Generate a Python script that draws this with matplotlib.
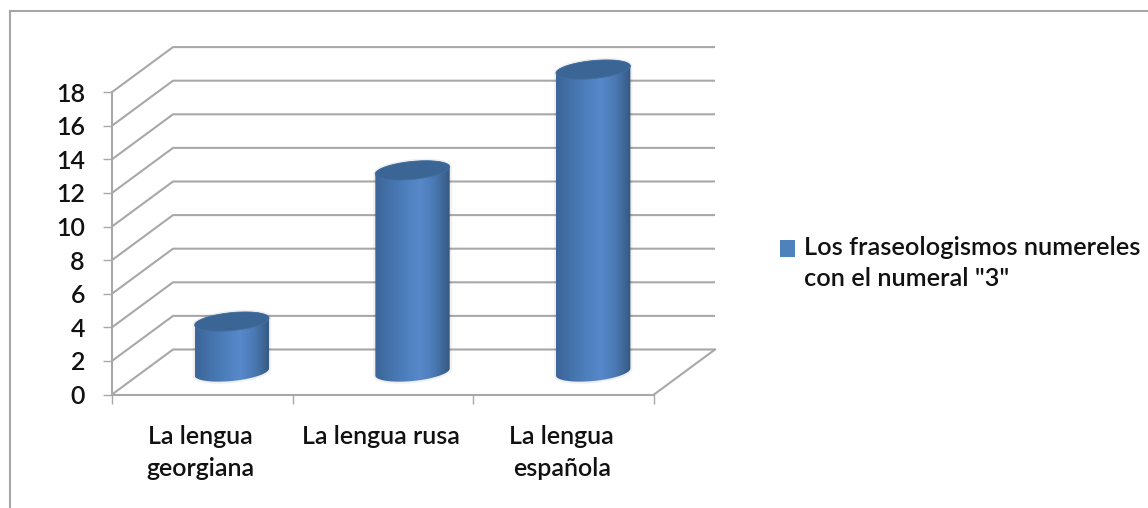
import numpy as np
import matplotlib
matplotlib.use("Agg")
import matplotlib.pyplot as plt
from matplotlib.colors import LinearSegmentedColormap
from matplotlib.patches import Patch, Polygon

# ---- data ----
categories = ["La lengua\ngeorgiana", "La lengua rusa", "La lengua\nespañola"]
values = [3, 12, 18]
series_name = 'Los fraseologismos numereles\ncon el numeral "3"'
y_ticks = list(range(0, 20, 2))

# ---- layout ----
W, H = 1148, 508
PX, PY = 112, 394.5          # pixel position of the chart origin
SX, SY = 180.67, 16.8        # pixels per category / per value
DX, DY = 61 / SX, 45 / SY    # 3D depth offset
GRID = "#a8a8a8"
plt.rcParams["font.family"] = ["Lato", "DejaVu Sans"]
FS = 18.0
WEIGHT = 600

fig = plt.figure(figsize=(W / 100, H / 100), dpi=100, facecolor="white")
ax = fig.add_axes([0, 0, 1, 1], facecolor="none")

# outer chart frame
for (x0, y0, x1, y1) in [(10, H + 5, 10, 11), (10, 11, W + 5, 11)]:
    fig.add_artist(plt.Line2D([x0 / W, x1 / W], [1 - y0 / H, 1 - y1 / H],
                              color="#a6a6a6", lw=1.5, transform=fig.transFigure))

n = len(categories)
# walls and floor
for v in y_ticks:
    ax.plot([0, DX, n + DX], [v, v + DY, v + DY], color=GRID, lw=1.5, zorder=1,
            solid_joinstyle="miter", solid_capstyle="butt")
ax.plot([n, n + DX], [0, DY], color=GRID, lw=1.5, zorder=1)

# cylinders
cmap = LinearSegmentedColormap.from_list("cyl", [
    (0.00, "#3d6699"), (0.08, "#3f6a9f"), (0.35, "#4b7cb9"), (0.60, "#5789cb"),
    (0.80, "#4a78b2"), (0.94, "#3b6290"), (1.00, "#35577f")])
grad = np.linspace(0, 1, 256).reshape(1, -1)
half_w = 37.2 / SX
half_h_px, tilt_px = 9.0, 3.5
t = np.linspace(0, 2 * np.pi, 181)

for i, v in enumerate(values):
    cx = i + 0.5 + DX / 2 - 1.0 / SX
    base = DY / 2
    ex = half_w * np.cos(t)
    ey = (half_h_px * np.sin(t) + tilt_px * np.cos(t)) / SY
    tops = base + v + ey
    bots = base + ey
    upper = t <= np.pi                # upper half of the ellipse
    order_top = np.where(upper)[0]
    lower = np.where(~upper)[0]
    outline = np.vstack([
        np.column_stack([cx + ex[order_top], tops[order_top]]),
        np.column_stack([cx + ex[lower], bots[lower]]),
    ])
    shadow = Polygon(outline, closed=True, facecolor="none", edgecolor="#000000",
                     alpha=0.06, lw=3, zorder=2)
    ax.add_patch(shadow)
    body = Polygon(outline, closed=True, facecolor="none", edgecolor="none",
                   transform=ax.transData)
    ax.add_patch(body)
    im = ax.imshow(grad, cmap=cmap, aspect="auto", zorder=3, interpolation="bilinear",
                   extent=[cx - half_w, cx + half_w, base - 2, base + v + 2])
    im.set_clip_path(body)
    ax.fill(cx + ex, tops, facecolor="#3b6594", edgecolor="#44709f", lw=0.6, zorder=4)

# scales
ax.set_xlim(-PX / SX, (W - PX) / SX)
ax.set_ylim((PY - H) / SY, PY / SY)

for side in ("top", "right"):
    ax.spines[side].set_visible(False)
ax.spines["left"].set_position(("data", 0))
ax.spines["left"].set_bounds(0, 18)
ax.spines["bottom"].set_position(("data", 0))
ax.spines["bottom"].set_bounds(0, n)
for side in ("left", "bottom"):
    ax.spines[side].set_color(GRID)
    ax.spines[side].set_linewidth(1.5)
    ax.spines[side].set_zorder(1)

ax.set_yticks(y_ticks)
ax.set_yticklabels([str(v) for v in y_ticks], fontsize=FS, color="#111111", fontweight=WEIGHT)
ax.tick_params(axis="y", length=6.5, width=1, color=GRID, pad=13)
ax.set_xticks(range(n + 1))
ax.set_xticklabels([""] * (n + 1))
ax.tick_params(axis="x", which="major", length=6.5, width=1, color=GRID)
ax.set_xticks(np.arange(n) + 0.49, minor=True)
ax.set_xticklabels(categories, minor=True, fontsize=FS, color="#111111", fontweight=WEIGHT,
                   linespacing=1.45)
ax.tick_params(axis="x", which="minor", length=0, pad=22)

leg = ax.legend(handles=[Patch(facecolor="#4f81bd", label=series_name)],
                loc="center left", bbox_to_anchor=(780 / W, 1 - 263 / H), frameon=False,
                prop={"size": 18.3, "weight": WEIGHT}, labelcolor="#111111",
                handlelength=0.6, handleheight=0.6,
                handletextpad=0.33, borderpad=0, borderaxespad=0, labelspacing=0)
for text in leg.get_texts():
    text.set_linespacing(1.45)
# align the key with the first line of the two-line label
leg.legend_handles[0].set_y(11.5)

fig.savefig("out.png", dpi=100, facecolor="white")
